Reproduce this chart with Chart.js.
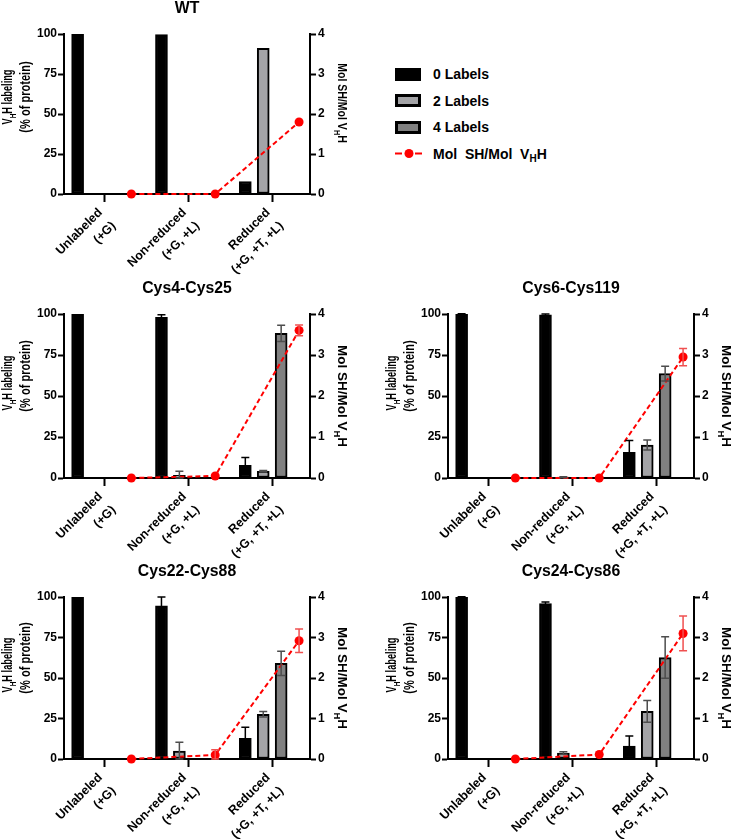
<!DOCTYPE html>
<html>
<head>
<meta charset="utf-8">
<script src="https://cdn.jsdelivr.net/npm/chart.js@4.4.1/dist/chart.umd.min.js"></script>
<style>
  body { margin: 0; background: #fff; width: 735px; height: 839px; position: relative; overflow: hidden;
         font-family: "Liberation Sans", Arial, sans-serif; }
  canvas { position: absolute; }
  #legend { position: absolute; left: 395px; top: 61px; font-weight: bold; font-size: 14px; color: #000; }
  .item { height: 26.5px; display: flex; align-items: center; white-space: pre; }
  .sw { width: 26px; height: 13px; box-sizing: border-box; margin-right: 12px; flex: none; }
  .sw svg { display: block; }
  sub { font-size: 10px; vertical-align: -3px; line-height: 0; }
</style>
</head>
<body>
<div id="legend"></div>
<script>
// categories and series
const groupLabels = [['Unlabeled', '(+G)'], ['Non-reduced', '(+G, +L)'], ['Reduced', '(+G, +T, +L)']];
const seriesLabels = ['0 Labels', '2 Labels', '4 Labels', 'Mol  SH/Mol  V<sub>H</sub>H'];
const seriesColors = ['#000000', '#a3a3a6', '#808080', '#ff0000'];
const yLeftTicks = [0, 25, 50, 75, 100];
const yRightTicks = [0, 1, 2, 3, 4];
const leftTitle = [[['V', 0], ['H', 1], ['H labeling', 0]], [['(% of protein)', 0]]];
const rightTitle = [['Mol SH/Mol V', 0], ['H', 1], ['H', 0]];

// WT
const wtZero = [100, 99.6, 7.8];
const wtTwo = [0, 0, 91];
const wtFour = [0, 0, 0];
const wtMol = [0, 0, 1.8];

// Cys4-Cys25
const c4Zero = [100, 98, 7.8];
const c4ZeroErr = [0, 1.5, 4.7];
const c4Two = [0, 1.6, 4.1];
const c4TwoErr = [0, 2.5, 0.5];
const c4Four = [0, 0, 88.2];
const c4FourErr = [0, 0, 5];
const c4Mol = [0, 0.05, 3.6];
const c4MolErr = [0, 0, 0.13];

// Cys6-Cys119
const c6Zero = [100, 99.5, 15.6];
const c6ZeroErr = [0.2, 0.5, 7.3];
const c6Two = [0, 0.5, 20.1];
const c6TwoErr = [0, 0.3, 3];
const c6Four = [0, 0, 63.7];
const c6FourErr = [0, 0, 4.5];
const c6Mol = [0, 0, 2.95];
const c6MolErr = [0, 0, 0.21];

// Cys22-Cys88
const c22Zero = [100, 94.6, 12.8];
const c22ZeroErr = [0, 5.4, 6.8];
const c22Two = [0, 4.9, 27.6];
const c22TwoErr = [0, 5.5, 1.7];
const c22Four = [0, 0, 59];
const c22FourErr = [0, 0, 7.5];
const c22Mol = [0, 0.1, 2.92];
const c22MolErr = [0, 0.13, 0.29];

// Cys24-Cys86
const c24Zero = [100, 95.9, 8];
const c24ZeroErr = [0.2, 1, 6.2];
const c24Two = [0, 3.7, 29.4];
const c24TwoErr = [0, 0.8, 6.7];
const c24Four = [0, 0, 62.6];
const c24FourErr = [0, 0, 12.8];
const c24Mol = [0, 0.11, 3.1];
const c24MolErr = [0, 0, 0.43];

const FONT = '"Liberation Sans", Arial, sans-serif';
Chart.defaults.font.family = FONT;

// 4 slots per group (0, 2, 4 labels, then the mol point), groups a bit apart
const GROUP_STEP = 4.68;
const xFor = (g, slot) => g * GROUP_STEP + slot;

const panels = [
  { title: 'WT', left: 0, top: 0, w: 352, h: 280, plotTop: 34, plotBottom: 194,
    titleShift: [-17, -17], rightShift: -11, rightScale: 0.78,
    values: [wtZero, wtTwo, wtFour], errors: [null, null, null], mol: wtMol, molErr: null },
  { title: 'Cys4-Cys25', left: 0, top: 280, w: 352, h: 280, plotTop: 34, plotBottom: 198,
    titleShift: [-13, -20], rightShift: 0, rightScale: 1,
    values: [c4Zero, c4Two, c4Four], errors: [c4ZeroErr, c4TwoErr, c4FourErr], mol: c4Mol, molErr: c4MolErr },
  { title: 'Cys6-Cys119', left: 384, top: 280, w: 351, h: 280, plotTop: 34, plotBottom: 198,
    titleShift: [-13, -20], rightShift: 0, rightScale: 1,
    values: [c6Zero, c6Two, c6Four], errors: [c6ZeroErr, c6TwoErr, c6FourErr], mol: c6Mol, molErr: c6MolErr },
  { title: 'Cys22-Cys88', left: 0, top: 560, w: 352, h: 279, plotTop: 37, plotBottom: 199,
    titleShift: [-13, -20], rightShift: 0, rightScale: 1,
    values: [c22Zero, c22Two, c22Four], errors: [c22ZeroErr, c22TwoErr, c22FourErr], mol: c22Mol, molErr: c22MolErr },
  { title: 'Cys24-Cys86', left: 384, top: 560, w: 351, h: 279, plotTop: 37, plotBottom: 199,
    titleShift: [-13, -20], rightShift: 0, rightScale: 1,
    values: [c24Zero, c24Two, c24Four], errors: [c24ZeroErr, c24TwoErr, c24FourErr], mol: c24Mol, molErr: c24MolErr }
];

function richLine(ctx, parts, cx, y, size) {
  const fontFor = sub => `bold ${sub ? size * 0.7 : size}px ${FONT}`;
  let total = 0;
  parts.forEach(([t, sub]) => { ctx.font = fontFor(sub); total += ctx.measureText(t).width; });
  let x = cx - total / 2;
  ctx.textAlign = 'left';
  parts.forEach(([t, sub]) => {
    ctx.font = fontFor(sub);
    ctx.fillText(t, x, sub ? y + size * 0.28 : y);
    x += ctx.measureText(t).width;
  });
}

const errorBars = {
  id: 'errorBars',
  afterDatasetsDraw(chart) {
    const ctx = chart.ctx;
    chart.data.datasets.forEach((ds, i) => {
      if (!ds.errors) return;
      const meta = chart.getDatasetMeta(i);
      const yScale = chart.scales[meta.yAxisID];
      ctx.save();
      ctx.strokeStyle = ds.errorColor;
      ctx.lineWidth = 1.5;
      meta.data.forEach((el, j) => {
        const e = ds.errors[j];
        if (!e) return;
        const v = ds.data[j].y;
        const x = el.x;
        const top = yScale.getPixelForValue(v + e);
        const bot = yScale.getPixelForValue(Math.max(v - e, 0));
        ctx.beginPath();
        ctx.moveTo(x, top); ctx.lineTo(x, bot);
        ctx.moveTo(x - 4, top); ctx.lineTo(x + 4, top);
        ctx.moveTo(x - 4, bot); ctx.lineTo(x + 4, bot);
        ctx.stroke();
      });
      ctx.restore();
    });
  }
};

const panelText = {
  id: 'panelText',
  afterDraw(chart, args, opts) {
    const { ctx, chartArea: a } = chart;
    const midY = (a.top + a.bottom) / 2;
    ctx.save();
    ctx.fillStyle = '#000';
    ctx.textBaseline = 'alphabetic';
    ctx.font = `bold 15.8px ${FONT}`;
    ctx.textAlign = 'center';
    ctx.fillText(opts.title, (a.left + a.right) / 2, a.top - 27 + 5.5);

    // left axis title, two lines, reading upwards
    [[-9, 0.66], [9, 0.79]].forEach(([dx, sx], k) => {
      ctx.save();
      ctx.translate(a.left - 48 + dx, midY + opts.shift[k]);
      ctx.rotate(-Math.PI / 2);
      ctx.scale(sx, 1);
      richLine(ctx, leftTitle[k], 0, 5, 14);
      ctx.restore();
    });

    // right axis title, reading downwards
    ctx.save();
    ctx.translate(a.right + 33, midY + opts.rightShift);
    ctx.rotate(Math.PI / 2);
    ctx.scale(opts.rightScale, 1);
    richLine(ctx, rightTitle, 0, 4.8, 13.5);
    ctx.restore();
    ctx.restore();
  }
};

const axisGrid = len => ({ drawOnChartArea: false, drawTicks: true, tickLength: len, tickWidth: 2,
                           tickColor: '#000', color: '#000', offset: false });
const axisBorder = { display: true, color: '#000', width: 2 };

panels.forEach(p => {
  const canvas = document.createElement('canvas');
  canvas.width = p.w;
  canvas.height = p.h;
  canvas.style.left = p.left + 'px';
  canvas.style.top = p.top + 'px';
  document.body.appendChild(canvas);

  const barSets = p.values.map((vals, s) => ({
    type: 'bar',
    label: seriesLabels[s],
    order: 1,
    yAxisID: 'y',
    data: vals.map((v, g) => ({ x: xFor(g, s), y: v })),
    errors: p.errors[s],
    errorColor: s === 0 ? '#000' : '#4d4d4d',
    backgroundColor: seriesColors[s],
    borderColor: '#000',
    borderWidth: 2,
    borderSkipped: false,
    grouped: false,
    barThickness: 12,
    maxBarThickness: 12
  }));

  const molSet = {
    type: 'line',
    label: seriesLabels[3],
    order: 0,
    yAxisID: 'y2',
    data: p.mol.map((v, g) => ({ x: xFor(g, 3), y: v })),
    errors: p.molErr,
    errorColor: '#f05050',
    borderColor: seriesColors[3],
    borderWidth: 2,
    borderDash: [5, 3],
    pointRadius: 4.5,
    pointBackgroundColor: seriesColors[3],
    pointBorderWidth: 0,
    tension: 0,
    clip: false
  };

  new Chart(canvas, {
    type: 'bar',
    data: { datasets: [molSet, ...barSets] },
    plugins: [errorBars, panelText],
    options: {
      responsive: false,
      devicePixelRatio: 1,
      animation: false,
      layout: { padding: { top: p.plotTop, left: 0, right: 0, bottom: 0 } },
      plugins: {
        legend: { display: false },
        tooltip: { enabled: false },
        title: { display: false },
        panelText: { title: p.title, shift: p.titleShift, rightShift: p.rightShift, rightScale: p.rightScale }
      },
      scales: {
        x: {
          type: 'linear',
          min: -0.76,
          max: 2 * GROUP_STEP + 3.61,
          offset: false,
          afterBuildTicks: s => { s.ticks = groupLabels.map((_, g) => ({ value: xFor(g, 1.5) })); },
          afterFit: s => { s.height = p.h - p.plotBottom; },
          ticks: {
            autoSkip: false, minRotation: 45, maxRotation: 45, padding: 2, labelOffset: -4, color: '#000',
            font: { size: 12.5, weight: 'bold', lineHeight: 1.5 },
            callback: (v, i) => groupLabels[i]
          },
          grid: axisGrid(8),
          border: axisBorder
        },
        y: {
          position: 'left',
          min: yLeftTicks[0],
          max: yLeftTicks[yLeftTicks.length - 1],
          afterBuildTicks: s => { s.ticks = yLeftTicks.map(v => ({ value: v })); },
          afterFit: s => { s.width = 64; },
          ticks: { padding: 1, color: '#000', font: { size: 12, weight: 'bold' } },
          grid: axisGrid(6),
          border: axisBorder
        },
        y2: {
          position: 'right',
          min: yRightTicks[0],
          max: yRightTicks[yRightTicks.length - 1],
          afterBuildTicks: s => { s.ticks = yRightTicks.map(v => ({ value: v })); },
          afterFit: s => { s.width = p.w - 310; },
          ticks: { padding: 2, color: '#000', font: { size: 12, weight: 'bold' } },
          grid: axisGrid(6),
          border: axisBorder
        }
      }
    }
  });
});

// legend
const swatches = [
  '<div class="sw" style="background:#000"></div>',
  `<div class="sw" style="border:3px solid #000;background:${seriesColors[1]}"></div>`,
  `<div class="sw" style="border:3px solid #000;background:${seriesColors[2]}"></div>`,
  `<div class="sw"><svg width="28" height="13"><line x1="0" y1="6.5" x2="28" y2="6.5" stroke="${seriesColors[3]}" stroke-width="2" stroke-dasharray="7,3"/><circle cx="14" cy="6.5" r="4.5" fill="${seriesColors[3]}"/></svg></div>`
];
document.getElementById('legend').innerHTML = seriesLabels
  .map((l, i) => `<div class="item">${swatches[i]}<span>${l}</span></div>`).join('');
</script>
</body>
</html>
